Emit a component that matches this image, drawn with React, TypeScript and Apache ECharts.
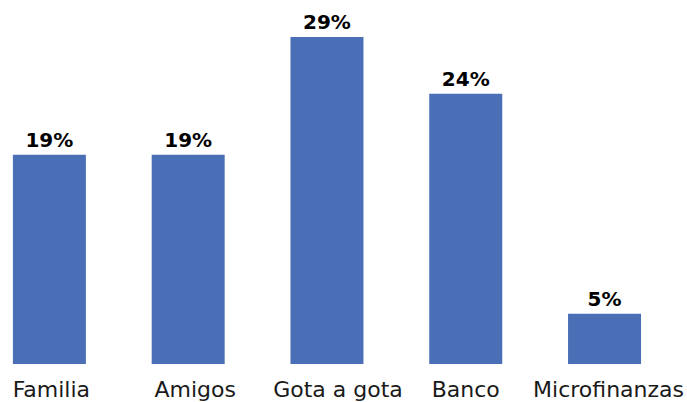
import React, { useEffect, useRef } from "react";
import * as echarts from "echarts";

const categories = ["Familia", "Amigos", "Gota a gota", "Banco", "Microfinanzas"];
const values = [18.5, 18.5, 28.9, 23.9, 4.45];
const labels = ["19%", "19%", "29%", "24%", "5%"];

// horizontal nudge of each category label (px), layout only
const labelShift = [2, 7, 11, 0, 4];

export default function App() {
  const ref = useRef<HTMLDivElement>(null);
  useEffect(() => {
    if (!ref.current) return;
    const chart = echarts.init(ref.current, undefined, { renderer: "svg" });
    chart.setOption({
      animation: false,
      grid: { left: 0, right: 13, top: 2, bottom: 38, containLabel: false },
      xAxis: {
        type: "category",
        data: categories.map((c, i) => ({
          value: c,
          textStyle: { padding: [0, 0, 0, labelShift[i] * 2] },
        })),
        axisLine: { show: false },
        axisTick: { show: false },
        axisLabel: {
          color: "#1a1a1a",
          fontFamily: "DejaVu Sans",
          fontSize: 22,
          margin: 14,
          interval: 0,
        },
      },
      yAxis: {
        type: "value",
        min: 0,
        max: 32,
        show: false,
        splitLine: { show: false },
      },
      series: [
        {
          type: "bar",
          data: values,
          barWidth: 73,
          itemStyle: { color: "#4A6FB6" },
          label: {
            show: true,
            position: "top",
            distance: 5,
            formatter: (p: any) => labels[p.dataIndex],
            color: "#000",
            fontFamily: "DejaVu Sans",
            fontWeight: "bold",
            fontSize: 20,
          },
        },
      ],
    });
    return () => chart.dispose();
  }, []);
  return (
    <div
      ref={ref}
      style={{ position: "absolute", left: -20, top: 0, width: 707, height: 402 }}
    />
  );
}
